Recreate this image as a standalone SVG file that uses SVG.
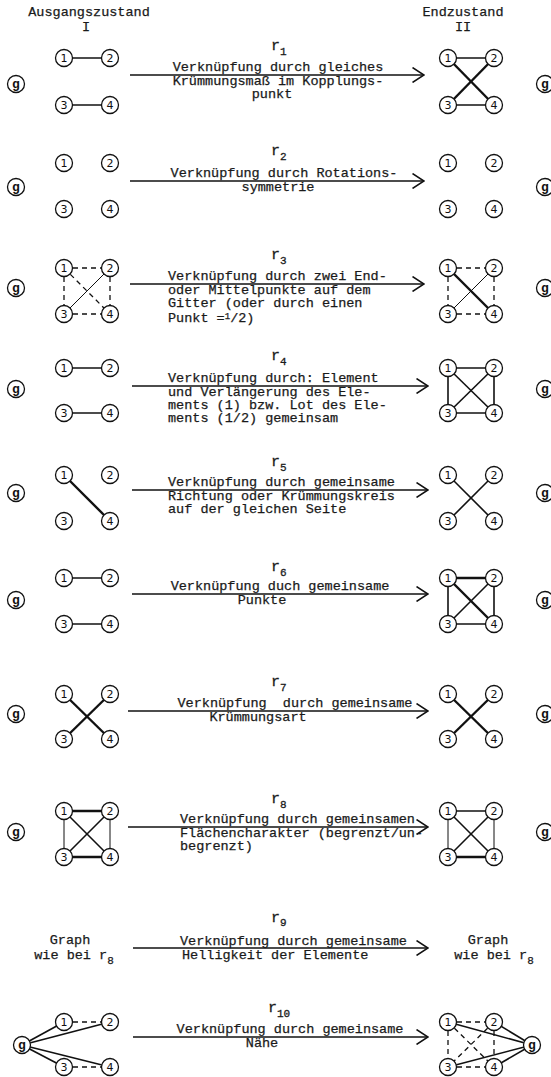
<svg xmlns="http://www.w3.org/2000/svg" width="551" height="1077" viewBox="0 0 551 1077">
<defs>
<style>
.t{font-family:"Liberation Mono",monospace;font-size:13.5px;fill:#1a1a1a;stroke:#1a1a1a;stroke-width:0.25}
.c{text-anchor:middle}
.rl{font-family:"Liberation Mono",monospace;font-size:15px;fill:#1a1a1a;stroke:#1a1a1a;stroke-width:0.3}
.sub{font-size:11px}
.sup{font-size:9px}
.n circle{fill:#fff;stroke:#111;stroke-width:1.3}
.n text{font-family:"DejaVu Sans",sans-serif;font-size:11px;text-anchor:middle;fill:#111}
.g circle{fill:#fff;stroke:#111;stroke-width:1.3}
.g text{font-family:"Liberation Mono",monospace;font-size:13px;font-weight:bold;text-anchor:middle;fill:#111}
.e{stroke:#111;stroke-width:1.6;fill:none}
.th{stroke-width:2.4}
.tn{stroke-width:1}
.d{stroke-dasharray:5,4;stroke-width:1.3}
.ar{stroke:#111;stroke-width:1.5;fill:none}
</style>
<marker id="ah" viewBox="0 0 13 16" refX="12" refY="8" markerWidth="13" markerHeight="16" markerUnits="userSpaceOnUse" orient="auto">
<path d="M0.5,0.5 L12,8 L0.5,15.5" fill="none" stroke="#111" stroke-width="1.5"/>
</marker>
</defs>
<rect width="551" height="1077" fill="#fff"/>

<g id="headers">
<text class="t c" x="89" y="16">Ausgangszustand</text>
<text class="t c" x="86" y="31">I</text>
<text class="t c" x="463" y="16">Endzustand</text>
<text class="t c" x="463" y="31">II</text>
</g>

<g id="connectors">
<line class="ar" x1="130" y1="75" x2="424" y2="75" marker-end="url(#ah)"/>
<line class="ar" x1="130" y1="181" x2="424" y2="181" marker-end="url(#ah)"/>
<line class="ar" x1="130" y1="284" x2="424" y2="284" marker-end="url(#ah)"/>
<line class="ar" x1="132" y1="386" x2="428" y2="386" marker-end="url(#ah)"/>
<line class="ar" x1="132" y1="490" x2="428" y2="490" marker-end="url(#ah)"/>
<line class="ar" x1="132" y1="594" x2="428" y2="594" marker-end="url(#ah)"/>
<line class="ar" x1="128" y1="711" x2="428" y2="711" marker-end="url(#ah)"/>
<line class="ar" x1="128" y1="827" x2="428" y2="827" marker-end="url(#ah)"/>
<line class="ar" x1="133" y1="948" x2="428" y2="948" marker-end="url(#ah)"/>
<line class="ar" x1="133" y1="1037" x2="428" y2="1037" marker-end="url(#ah)"/>
<!-- r1 -->
<line class="e" x1="64" y1="58" x2="110" y2="58"/>
<line class="e" x1="64" y1="105" x2="110" y2="105"/>
<line class="e" x1="448" y1="58" x2="494" y2="58"/>
<line class="e" x1="448" y1="105" x2="494" y2="105"/>
<line class="e th" x1="448" y1="58" x2="494" y2="105"/>
<line class="e th" x1="494" y1="58" x2="448" y2="105"/>
<!-- r3 -->
<line class="e d" x1="64" y1="268" x2="110" y2="268"/>
<line class="e d" x1="64" y1="314" x2="110" y2="314"/>
<line class="e d" x1="64" y1="268" x2="64" y2="314"/>
<line class="e d" x1="110" y1="268" x2="110" y2="314"/>
<line class="e d" x1="64" y1="268" x2="110" y2="314"/>
<line class="e tn" x1="110" y1="268" x2="64" y2="314"/>
<line class="e d" x1="448" y1="268" x2="494" y2="268"/>
<line class="e d" x1="448" y1="314" x2="494" y2="314"/>
<line class="e d" x1="448" y1="268" x2="448" y2="314"/>
<line class="e d" x1="494" y1="268" x2="494" y2="314"/>
<line class="e th" x1="448" y1="268" x2="494" y2="314"/>
<line class="e tn" x1="494" y1="268" x2="448" y2="314"/>
<!-- r4 -->
<line class="e" x1="64" y1="368" x2="110" y2="368"/>
<line class="e" x1="64" y1="413" x2="110" y2="413"/>
<line class="e" x1="448" y1="368" x2="494" y2="368"/>
<line class="e" x1="448" y1="413" x2="494" y2="413"/>
<line class="e" x1="448" y1="368" x2="448" y2="413"/>
<line class="e" x1="494" y1="368" x2="494" y2="413"/>
<line class="e" x1="448" y1="368" x2="494" y2="413"/>
<line class="e" x1="494" y1="368" x2="448" y2="413"/>
<!-- r5 -->
<line class="e th" x1="64" y1="475" x2="110" y2="521"/>
<line class="e" x1="448" y1="475" x2="494" y2="521"/>
<line class="e" x1="494" y1="475" x2="448" y2="521"/>
<!-- r6 -->
<line class="e" x1="64" y1="578" x2="110" y2="578"/>
<line class="e" x1="64" y1="624" x2="110" y2="624"/>
<line class="e th" x1="448" y1="578" x2="494" y2="578"/>
<line class="e" x1="448" y1="624" x2="494" y2="624"/>
<line class="e" x1="448" y1="578" x2="448" y2="624"/>
<line class="e" x1="494" y1="578" x2="494" y2="624"/>
<line class="e th" x1="448" y1="578" x2="494" y2="624"/>
<line class="e" x1="494" y1="578" x2="448" y2="624"/>
<!-- r7 -->
<line class="e th" x1="64" y1="694" x2="110" y2="739"/>
<line class="e th" x1="110" y1="694" x2="64" y2="739"/>
<line class="e th" x1="448" y1="694" x2="494" y2="739"/>
<line class="e th" x1="494" y1="694" x2="448" y2="739"/>
<!-- r8 -->
<line class="e th" x1="64" y1="811" x2="110" y2="811"/>
<line class="e th" x1="64" y1="857" x2="110" y2="857"/>
<line class="e tn" x1="64" y1="811" x2="64" y2="857"/>
<line class="e tn" x1="110" y1="811" x2="110" y2="857"/>
<line class="e" x1="64" y1="811" x2="110" y2="857"/>
<line class="e" x1="110" y1="811" x2="64" y2="857"/>
<line class="e" x1="448" y1="811" x2="494" y2="811"/>
<line class="e th" x1="448" y1="857" x2="494" y2="857"/>
<line class="e tn" x1="448" y1="811" x2="448" y2="857"/>
<line class="e tn" x1="494" y1="811" x2="494" y2="857"/>
<line class="e" x1="448" y1="811" x2="494" y2="857"/>
<line class="e" x1="494" y1="811" x2="448" y2="857"/>
<!-- r10 -->
<line class="e" x1="22" y1="1045" x2="64" y2="1022"/>
<line class="e" x1="22" y1="1045" x2="110" y2="1022"/>
<line class="e" x1="22" y1="1045" x2="64" y2="1067"/>
<line class="e" x1="22" y1="1045" x2="110" y2="1067"/>
<line class="e d" x1="64" y1="1022" x2="110" y2="1022"/>
<line class="e d" x1="64" y1="1067" x2="110" y2="1067"/>
<line class="e d" x1="448" y1="1022" x2="494" y2="1022"/>
<line class="e d" x1="448" y1="1067" x2="494" y2="1067"/>
<line class="e d" x1="448" y1="1022" x2="448" y2="1067"/>
<line class="e d" x1="494" y1="1022" x2="494" y2="1067"/>
<line class="e d" x1="448" y1="1022" x2="494" y2="1067"/>
<line class="e d" x1="494" y1="1022" x2="448" y2="1067"/>
<line class="e" x1="448" y1="1022" x2="532" y2="1045"/>
<line class="e" x1="494" y1="1022" x2="532" y2="1045"/>
<line class="e" x1="448" y1="1067" x2="532" y2="1045"/>
<line class="e" x1="494" y1="1067" x2="532" y2="1045"/>
</g>

<g id="labels">
<text class="rl" x="271" y="50">r<tspan class="sub" dy="5">1</tspan></text>
<text class="t c" x="278" y="71">Verknüpfung durch gleiches</text>
<text class="t c" x="278" y="85">Krümmungsmaß im Kopplungs-</text>
<text class="t c" x="272" y="98">punkt</text>

<text class="rl" x="271" y="155">r<tspan class="sub" dy="5">2</tspan></text>
<text class="t c" x="284" y="177">Verknüpfung durch Rotations-</text>
<text class="t c" x="278" y="191">symmetrie</text>

<text class="rl" x="271" y="259">r<tspan class="sub" dy="5">3</tspan></text>
<text class="t" x="168" y="280">Verknüpfung durch zwei End-</text>
<text class="t" x="168" y="294">oder Mittelpunkte auf dem</text>
<text class="t" x="168" y="307">Gitter (oder durch einen</text>
<text class="t" x="168" y="322">Punkt =<tspan class="sup" dy="-3">1</tspan><tspan dy="3">/2)</tspan></text>

<text class="rl" x="271" y="360">r<tspan class="sub" dy="5">4</tspan></text>
<text class="t" x="168" y="382">Verknüpfung durch: Element</text>
<text class="t" x="168" y="396">und Verlängerung des Ele-</text>
<text class="t" x="168" y="409">ments (1) bzw. Lot des Ele-</text>
<text class="t" x="168" y="422">ments (1/2) gemeinsam</text>

<text class="rl" x="271" y="466">r<tspan class="sub" dy="5">5</tspan></text>
<text class="t" x="168" y="486">Verknüpfung durch gemeinsame</text>
<text class="t" x="168" y="500">Richtung oder Krümmungskreis</text>
<text class="t" x="168" y="513">auf der gleichen Seite</text>

<text class="rl" x="271" y="571">r<tspan class="sub" dy="5">6</tspan></text>
<text class="t c" x="280" y="590">Verknüpfung duch gemeinsame</text>
<text class="t c" x="262" y="604">Punkte</text>

<text class="rl" x="271" y="686">r<tspan class="sub" dy="5">7</tspan></text>
<text class="t c" x="295" y="707" xml:space="preserve">Verknüpfung  durch gemeinsame</text>
<text class="t c" x="258" y="721">Krümmungsart</text>

<text class="rl" x="271" y="803">r<tspan class="sub" dy="5">8</tspan></text>
<text class="t" x="180" y="823">Verknüpfung durch gemeinsamen</text>
<text class="t" x="180" y="837">Flächencharakter (begrenzt/un-</text>
<text class="t" x="180" y="850">begrenzt)</text>

<text class="rl" x="271" y="922">r<tspan class="sub" dy="4">9</tspan></text>
<text class="t" x="180" y="945">Verknüpfung durch gemeinsame</text>
<text class="t" x="182" y="959">Helligkeit der Elemente</text>
<text class="t c" x="70" y="944">Graph</text>
<text class="t c" x="74" y="959">wie bei r<tspan class="sub" dy="5">8</tspan></text>
<text class="t c" x="488" y="944">Graph</text>
<text class="t c" x="494" y="959">wie bei r<tspan class="sub" dy="5">8</tspan></text>

<text class="rl" x="268" y="1012">r<tspan class="sub" dy="5">10</tspan></text>
<text class="t c" x="290" y="1033">Verknüpfung durch gemeinsame</text>
<text class="t c" x="262" y="1047">Nähe</text>
</g>

<g id="r1-g-left" class="g"><circle cx="16" cy="84" r="8.5"/><text x="16" y="88">g</text></g>
<g id="r1-L1" class="n"><circle cx="64" cy="58" r="8.5"/><text x="64" y="62">1</text></g>
<g id="r1-L2" class="n"><circle cx="110" cy="58" r="8.5"/><text x="110" y="62">2</text></g>
<g id="r1-L3" class="n"><circle cx="64" cy="105" r="8.5"/><text x="64" y="109">3</text></g>
<g id="r1-L4" class="n"><circle cx="110" cy="105" r="8.5"/><text x="110" y="109">4</text></g>
<g id="r1-R1" class="n"><circle cx="448" cy="58" r="8.5"/><text x="448" y="62">1</text></g>
<g id="r1-R2" class="n"><circle cx="494" cy="58" r="8.5"/><text x="494" y="62">2</text></g>
<g id="r1-R3" class="n"><circle cx="448" cy="105" r="8.5"/><text x="448" y="109">3</text></g>
<g id="r1-R4" class="n"><circle cx="494" cy="105" r="8.5"/><text x="494" y="109">4</text></g>
<g id="r1-g-right" class="g"><circle cx="545" cy="84" r="8.5"/><text x="545" y="88">g</text></g>

<g id="r2-g-left" class="g"><circle cx="16" cy="187" r="8.5"/><text x="16" y="191">g</text></g>
<g id="r2-L1" class="n"><circle cx="64" cy="163" r="8.5"/><text x="64" y="167">1</text></g>
<g id="r2-L2" class="n"><circle cx="110" cy="163" r="8.5"/><text x="110" y="167">2</text></g>
<g id="r2-L3" class="n"><circle cx="64" cy="209" r="8.5"/><text x="64" y="213">3</text></g>
<g id="r2-L4" class="n"><circle cx="110" cy="209" r="8.5"/><text x="110" y="213">4</text></g>
<g id="r2-R1" class="n"><circle cx="448" cy="163" r="8.5"/><text x="448" y="167">1</text></g>
<g id="r2-R2" class="n"><circle cx="494" cy="163" r="8.5"/><text x="494" y="167">2</text></g>
<g id="r2-R3" class="n"><circle cx="448" cy="209" r="8.5"/><text x="448" y="213">3</text></g>
<g id="r2-R4" class="n"><circle cx="494" cy="209" r="8.5"/><text x="494" y="213">4</text></g>
<g id="r2-g-right" class="g"><circle cx="545" cy="187" r="8.5"/><text x="545" y="191">g</text></g>

<g id="r3-g-left" class="g"><circle cx="16" cy="288" r="8.5"/><text x="16" y="292">g</text></g>
<g id="r3-L1" class="n"><circle cx="64" cy="268" r="8.5"/><text x="64" y="272">1</text></g>
<g id="r3-L2" class="n"><circle cx="110" cy="268" r="8.5"/><text x="110" y="272">2</text></g>
<g id="r3-L3" class="n"><circle cx="64" cy="314" r="8.5"/><text x="64" y="318">3</text></g>
<g id="r3-L4" class="n"><circle cx="110" cy="314" r="8.5"/><text x="110" y="318">4</text></g>
<g id="r3-R1" class="n"><circle cx="448" cy="268" r="8.5"/><text x="448" y="272">1</text></g>
<g id="r3-R2" class="n"><circle cx="494" cy="268" r="8.5"/><text x="494" y="272">2</text></g>
<g id="r3-R3" class="n"><circle cx="448" cy="314" r="8.5"/><text x="448" y="318">3</text></g>
<g id="r3-R4" class="n"><circle cx="494" cy="314" r="8.5"/><text x="494" y="318">4</text></g>
<g id="r3-g-right" class="g"><circle cx="545" cy="288" r="8.5"/><text x="545" y="292">g</text></g>

<g id="r4-g-left" class="g"><circle cx="16" cy="389" r="8.5"/><text x="16" y="393">g</text></g>
<g id="r4-L1" class="n"><circle cx="64" cy="368" r="8.5"/><text x="64" y="372">1</text></g>
<g id="r4-L2" class="n"><circle cx="110" cy="368" r="8.5"/><text x="110" y="372">2</text></g>
<g id="r4-L3" class="n"><circle cx="64" cy="413" r="8.5"/><text x="64" y="417">3</text></g>
<g id="r4-L4" class="n"><circle cx="110" cy="413" r="8.5"/><text x="110" y="417">4</text></g>
<g id="r4-R1" class="n"><circle cx="448" cy="368" r="8.5"/><text x="448" y="372">1</text></g>
<g id="r4-R2" class="n"><circle cx="494" cy="368" r="8.5"/><text x="494" y="372">2</text></g>
<g id="r4-R3" class="n"><circle cx="448" cy="413" r="8.5"/><text x="448" y="417">3</text></g>
<g id="r4-R4" class="n"><circle cx="494" cy="413" r="8.5"/><text x="494" y="417">4</text></g>
<g id="r4-g-right" class="g"><circle cx="545" cy="389" r="8.5"/><text x="545" y="393">g</text></g>

<g id="r5-g-left" class="g"><circle cx="16" cy="493" r="8.5"/><text x="16" y="497">g</text></g>
<g id="r5-L1" class="n"><circle cx="64" cy="475" r="8.5"/><text x="64" y="479">1</text></g>
<g id="r5-L2" class="n"><circle cx="110" cy="475" r="8.5"/><text x="110" y="479">2</text></g>
<g id="r5-L3" class="n"><circle cx="64" cy="521" r="8.5"/><text x="64" y="525">3</text></g>
<g id="r5-L4" class="n"><circle cx="110" cy="521" r="8.5"/><text x="110" y="525">4</text></g>
<g id="r5-R1" class="n"><circle cx="448" cy="475" r="8.5"/><text x="448" y="479">1</text></g>
<g id="r5-R2" class="n"><circle cx="494" cy="475" r="8.5"/><text x="494" y="479">2</text></g>
<g id="r5-R3" class="n"><circle cx="448" cy="521" r="8.5"/><text x="448" y="525">3</text></g>
<g id="r5-R4" class="n"><circle cx="494" cy="521" r="8.5"/><text x="494" y="525">4</text></g>
<g id="r5-g-right" class="g"><circle cx="545" cy="493" r="8.5"/><text x="545" y="497">g</text></g>

<g id="r6-g-left" class="g"><circle cx="16" cy="600" r="8.5"/><text x="16" y="604">g</text></g>
<g id="r6-L1" class="n"><circle cx="64" cy="578" r="8.5"/><text x="64" y="582">1</text></g>
<g id="r6-L2" class="n"><circle cx="110" cy="578" r="8.5"/><text x="110" y="582">2</text></g>
<g id="r6-L3" class="n"><circle cx="64" cy="624" r="8.5"/><text x="64" y="628">3</text></g>
<g id="r6-L4" class="n"><circle cx="110" cy="624" r="8.5"/><text x="110" y="628">4</text></g>
<g id="r6-R1" class="n"><circle cx="448" cy="578" r="8.5"/><text x="448" y="582">1</text></g>
<g id="r6-R2" class="n"><circle cx="494" cy="578" r="8.5"/><text x="494" y="582">2</text></g>
<g id="r6-R3" class="n"><circle cx="448" cy="624" r="8.5"/><text x="448" y="628">3</text></g>
<g id="r6-R4" class="n"><circle cx="494" cy="624" r="8.5"/><text x="494" y="628">4</text></g>
<g id="r6-g-right" class="g"><circle cx="545" cy="600" r="8.5"/><text x="545" y="604">g</text></g>

<g id="r7-g-left" class="g"><circle cx="16" cy="714" r="8.5"/><text x="16" y="718">g</text></g>
<g id="r7-L1" class="n"><circle cx="64" cy="694" r="8.5"/><text x="64" y="698">1</text></g>
<g id="r7-L2" class="n"><circle cx="110" cy="694" r="8.5"/><text x="110" y="698">2</text></g>
<g id="r7-L3" class="n"><circle cx="64" cy="739" r="8.5"/><text x="64" y="743">3</text></g>
<g id="r7-L4" class="n"><circle cx="110" cy="739" r="8.5"/><text x="110" y="743">4</text></g>
<g id="r7-R1" class="n"><circle cx="448" cy="694" r="8.5"/><text x="448" y="698">1</text></g>
<g id="r7-R2" class="n"><circle cx="494" cy="694" r="8.5"/><text x="494" y="698">2</text></g>
<g id="r7-R3" class="n"><circle cx="448" cy="739" r="8.5"/><text x="448" y="743">3</text></g>
<g id="r7-R4" class="n"><circle cx="494" cy="739" r="8.5"/><text x="494" y="743">4</text></g>
<g id="r7-g-right" class="g"><circle cx="545" cy="714" r="8.5"/><text x="545" y="718">g</text></g>

<g id="r8-g-left" class="g"><circle cx="16" cy="832" r="8.5"/><text x="16" y="836">g</text></g>
<g id="r8-L1" class="n"><circle cx="64" cy="811" r="8.5"/><text x="64" y="815">1</text></g>
<g id="r8-L2" class="n"><circle cx="110" cy="811" r="8.5"/><text x="110" y="815">2</text></g>
<g id="r8-L3" class="n"><circle cx="64" cy="857" r="8.5"/><text x="64" y="861">3</text></g>
<g id="r8-L4" class="n"><circle cx="110" cy="857" r="8.5"/><text x="110" y="861">4</text></g>
<g id="r8-R1" class="n"><circle cx="448" cy="811" r="8.5"/><text x="448" y="815">1</text></g>
<g id="r8-R2" class="n"><circle cx="494" cy="811" r="8.5"/><text x="494" y="815">2</text></g>
<g id="r8-R3" class="n"><circle cx="448" cy="857" r="8.5"/><text x="448" y="861">3</text></g>
<g id="r8-R4" class="n"><circle cx="494" cy="857" r="8.5"/><text x="494" y="861">4</text></g>
<g id="r8-g-right" class="g"><circle cx="545" cy="832" r="8.5"/><text x="545" y="836">g</text></g>

<g id="r10-g-left" class="g"><circle cx="22" cy="1045" r="8.5"/><text x="22" y="1049">g</text></g>
<g id="r10-L1" class="n"><circle cx="64" cy="1022" r="8.5"/><text x="64" y="1026">1</text></g>
<g id="r10-L2" class="n"><circle cx="110" cy="1022" r="8.5"/><text x="110" y="1026">2</text></g>
<g id="r10-L3" class="n"><circle cx="64" cy="1067" r="8.5"/><text x="64" y="1071">3</text></g>
<g id="r10-L4" class="n"><circle cx="110" cy="1067" r="8.5"/><text x="110" y="1071">4</text></g>
<g id="r10-R1" class="n"><circle cx="448" cy="1022" r="8.5"/><text x="448" y="1026">1</text></g>
<g id="r10-R2" class="n"><circle cx="494" cy="1022" r="8.5"/><text x="494" y="1026">2</text></g>
<g id="r10-R3" class="n"><circle cx="448" cy="1067" r="8.5"/><text x="448" y="1071">3</text></g>
<g id="r10-R4" class="n"><circle cx="494" cy="1067" r="8.5"/><text x="494" y="1071">4</text></g>
<g id="r10-g-right" class="g"><circle cx="532" cy="1045" r="8.5"/><text x="532" y="1049">g</text></g>
</svg>
